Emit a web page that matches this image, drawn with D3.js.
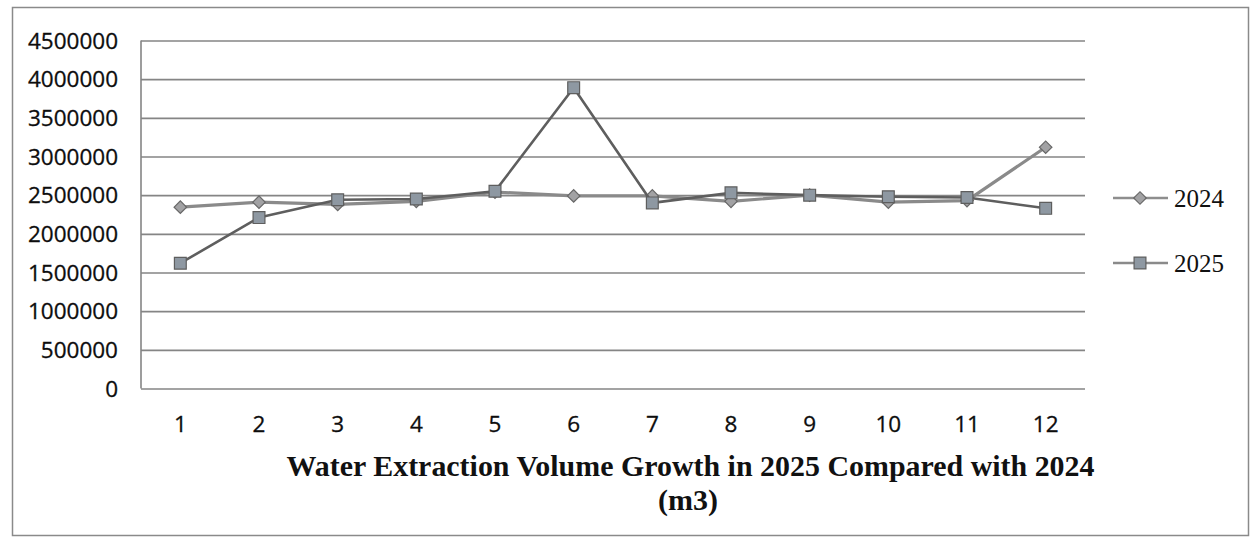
<!DOCTYPE html>
<html>
<head>
<meta charset="utf-8">
<script src="https://cdn.jsdelivr.net/npm/d3@7"></script>
<style>
  html, body { margin: 0; padding: 0; background: #ffffff; }
  svg { display: block; }
</style>
</head>
<body>
<svg id="chart" width="1253" height="541"></svg>
<script>
// Monthly water extraction volume (m3), 2024 vs 2025
const months = ["1", "2", "3", "4", "5", "6", "7", "8", "9", "10", "11", "12"];
const values2024 = [2345000, 2410000, 2380000, 2420000, 2540000, 2490000, 2490000, 2420000, 2500000, 2410000, 2430000, 3120000];
const values2025 = [1620000, 2210000, 2440000, 2450000, 2550000, 3890000, 2400000, 2530000, 2500000, 2480000, 2470000, 2330000];
const yTicks = [0, 500000, 1000000, 1500000, 2000000, 2500000, 3000000, 3500000, 4000000, 4500000];
const seriesNames = ["2024", "2025"];
const titleLines = ["Water Extraction Volume Growth in 2025 Compared with 2024", "(m3)"];

const svg = d3.select("#chart");

const plot = { left: 141, right: 1085, top: 40.5, bottom: 388.5 };

const x = d3.scaleBand().domain(months).range([plot.left, plot.right]);
const y = d3.scaleLinear().domain([0, 4500000]).range([plot.bottom, plot.top]);
const cx = m => x(m) + x.bandwidth() / 2;

// outer frame
svg.append("rect")
  .attr("x", 12.5).attr("y", 7.5)
  .attr("width", 1236).attr("height", 528)
  .attr("fill", "none").attr("stroke", "#8a8a8a").attr("stroke-width", 1.5);

// horizontal gridlines
const grid = svg.append("g")
  .attr("transform", `translate(${plot.left},0)`)
  .call(d3.axisLeft(y).tickValues(yTicks).tickSize(-(plot.right - plot.left)).tickFormat(""));
grid.select(".domain").remove();
grid.selectAll(".tick line").attr("stroke", "#858585").attr("stroke-width", 1.6);

// vertical axis line
svg.append("line")
  .attr("x1", plot.left).attr("x2", plot.left)
  .attr("y1", plot.top).attr("y2", plot.bottom)
  .attr("stroke", "#858585").attr("stroke-width", 1.6);

// y tick labels
const yAxis = svg.append("g")
  .attr("transform", `translate(118,0)`)
  .call(d3.axisLeft(y).tickValues(yTicks).tickSize(0).tickPadding(0).tickFormat(d3.format("d")));
yAxis.select(".domain").remove();
yAxis.selectAll("text")
  .attr("font-family", "'Open Sans', sans-serif")
  .attr("font-size", 22.5)
  .attr("fill", "#0d0d0d")
  .attr("stroke", "#0d0d0d")
  .attr("stroke-width", 0.3)
  .attr("dy", "0.34em");

// x tick labels
const xAxis = svg.append("g")
  .attr("transform", `translate(0,${plot.bottom})`)
  .call(d3.axisBottom(x).tickSize(0).tickPadding(0));
xAxis.select(".domain").remove();
xAxis.selectAll("text")
  .attr("font-family", "'Open Sans', sans-serif")
  .attr("font-size", 22.5)
  .attr("fill", "#0d0d0d")
  .attr("stroke", "#0d0d0d")
  .attr("stroke-width", 0.3)
  .attr("dy", "0")
  .attr("y", 43);

// series
const line = d3.line().x((d, i) => cx(months[i])).y(d => y(d));

// diamond = square turned 45 degrees, so it is as wide as it is tall
const diamond = d3.symbol().type(d3.symbolSquare).size(78);
const square = d3.symbol().type(d3.symbolSquare).size(140);

// 2024
svg.append("path")
  .datum(values2024)
  .attr("d", line)
  .attr("fill", "none")
  .attr("stroke", "#8a8a8a")
  .attr("stroke-width", 3.2)
  .attr("stroke-linejoin", "round");
svg.append("g").selectAll("path")
  .data(values2024)
  .join("path")
  .attr("d", diamond)
  .attr("transform", (d, i) => `translate(${cx(months[i])},${y(d)}) rotate(45)`)
  .attr("fill", "#a2a2a4")
  .attr("stroke", "#686868")
  .attr("stroke-width", 1.2);

// 2025
svg.append("path")
  .datum(values2025)
  .attr("d", line)
  .attr("fill", "none")
  .attr("stroke", "#5e5e5e")
  .attr("stroke-width", 2.6)
  .attr("stroke-linejoin", "round");
svg.append("g").selectAll("path")
  .data(values2025)
  .join("path")
  .attr("d", square)
  .attr("transform", (d, i) => `translate(${cx(months[i])},${y(d)})`)
  .attr("fill", "#8e98a2")
  .attr("stroke", "#5e5e5e")
  .attr("stroke-width", 1.2);

// legend
const legend = svg.append("g");
const legendRows = [
  { name: seriesNames[0], y: 198, sym: diamond, rot: 45, fill: "#a2a2a4", stroke: "#8e8e8e", edge: "#686868" },
  { name: seriesNames[1], y: 263, sym: square, rot: 0, fill: "#8e98a2", stroke: "#8a8a8a", edge: "#5e5e5e" }
];
legendRows.forEach(r => {
  legend.append("line")
    .attr("x1", 1113).attr("x2", 1168)
    .attr("y1", r.y).attr("y2", r.y)
    .attr("stroke", r.stroke).attr("stroke-width", 2.4);
  legend.append("path")
    .attr("d", r.sym)
    .attr("transform", `translate(1140,${r.y}) rotate(${r.rot})`)
    .attr("fill", r.fill).attr("stroke", r.edge).attr("stroke-width", 1.2);
  legend.append("text")
    .attr("x", 1174).attr("y", r.y + 8.5)
    .attr("font-family", "'Liberation Serif', 'Times New Roman', serif")
    .attr("font-size", 25)
    .attr("fill", "#111")
    .text(r.name);
});

// title below the axis
svg.append("text")
  .attr("x", 690.5).attr("y", 476)
  .attr("text-anchor", "middle")
  .attr("font-family", "'Liberation Serif', 'Times New Roman', serif")
  .attr("font-weight", "bold")
  .attr("font-size", 30)
  .attr("textLength", 808)
  .attr("lengthAdjust", "spacingAndGlyphs")
  .attr("fill", "#111")
  .text(titleLines[0]);
svg.append("text")
  .attr("x", 688).attr("y", 510)
  .attr("text-anchor", "middle")
  .attr("font-family", "'Liberation Serif', 'Times New Roman', serif")
  .attr("font-weight", "bold")
  .attr("font-size", 30)
  .attr("fill", "#111")
  .text(titleLines[1]);
</script>
</body>
</html>
